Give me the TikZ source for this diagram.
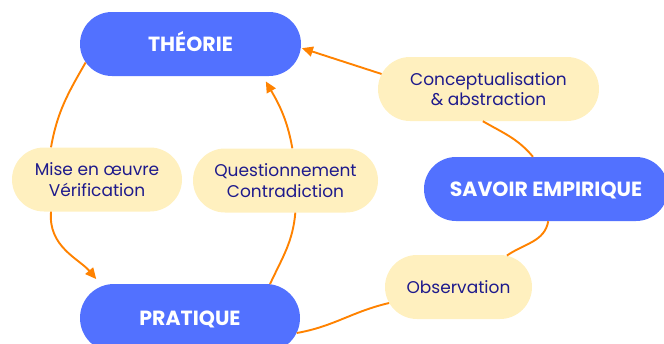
\documentclass[tikz,border=0pt]{standalone}
\usepackage{fontspec}
\setmainfont{Poppins}
\usetikzlibrary{shapes.misc,arrows.meta}
\definecolor{nodeblue}{HTML}{5271FF}
\definecolor{labelyellow}{HTML}{FFF0BF}
\definecolor{linkorange}{HTML}{FF8200}
\definecolor{navytext}{HTML}{1E1A8C}
\tikzset{
  mainbox/.style={rounded rectangle, fill=nodeblue, text=white, font=\fontsize{20.5}{24}\selectfont\bfseries, minimum height=64pt, inner sep=0pt, text height=14.3pt, text depth=0pt},
  labelbox/.style={rounded rectangle, fill=labelyellow, text=navytext, font=\fontsize{17}{20.5}\selectfont, align=center, minimum height=64pt, inner sep=0pt},
  link/.style={draw=linkorange, line width=1.9pt},
  arrowlink/.style={link, -{Triangle[length=11pt,width=10pt]}, shorten >=1pt}
}
\begin{document}
\begin{tikzpicture}[x=1pt,y=-1pt]
\useasboundingbox (0,0) rectangle (664,343);
\node[mainbox, minimum width=221pt] (theorie) at (190.5,44) {THÉORIE};
\node[mainbox, minimum width=220pt, minimum height=68pt] (pratique) at (190,318) {PRATIQUE};
\node[mainbox, minimum width=244pt] (savoir) at (546,189) {SAVOIR EMPIRIQUE};
\node[labelbox, minimum width=221pt] (concept) at (488.5,89) {Conceptualisation\\\& abstraction};
\node[labelbox, minimum width=170pt] (mise) at (97,179.5) {Mise en œuvre\\Vérification};
\node[labelbox, minimum width=185pt] (question) at (285.5,180.5) {Questionnement\\Contradiction};
\node[labelbox, minimum width=147pt] (observation) at (458.5,287) {Observation};
% outer loop
\draw[link] (pratique.-8) to[out=10,in=-167] (observation.193);
\draw[link] (observation.33) to[out=35,in=-100] (savoir.-86);
\draw[link] (savoir.112) to[out=130,in=-30] (concept.-100);
\draw[arrowlink] (concept.172) -- (theorie.-2);
% left loop
\draw[link] (theorie.190) to[out=-120,in=80] (mise.145);
\draw[arrowlink, shorten >=9pt] (mise.215) to[out=-95,in=130] (pratique.160);
% inner loop
\draw[link] (pratique.23) to[out=65,in=-95] (question.-73);
\draw[arrowlink, shorten >=6pt] (question.78) to[out=100,in=-60] (theorie.-24);
\end{tikzpicture}
\end{document}
